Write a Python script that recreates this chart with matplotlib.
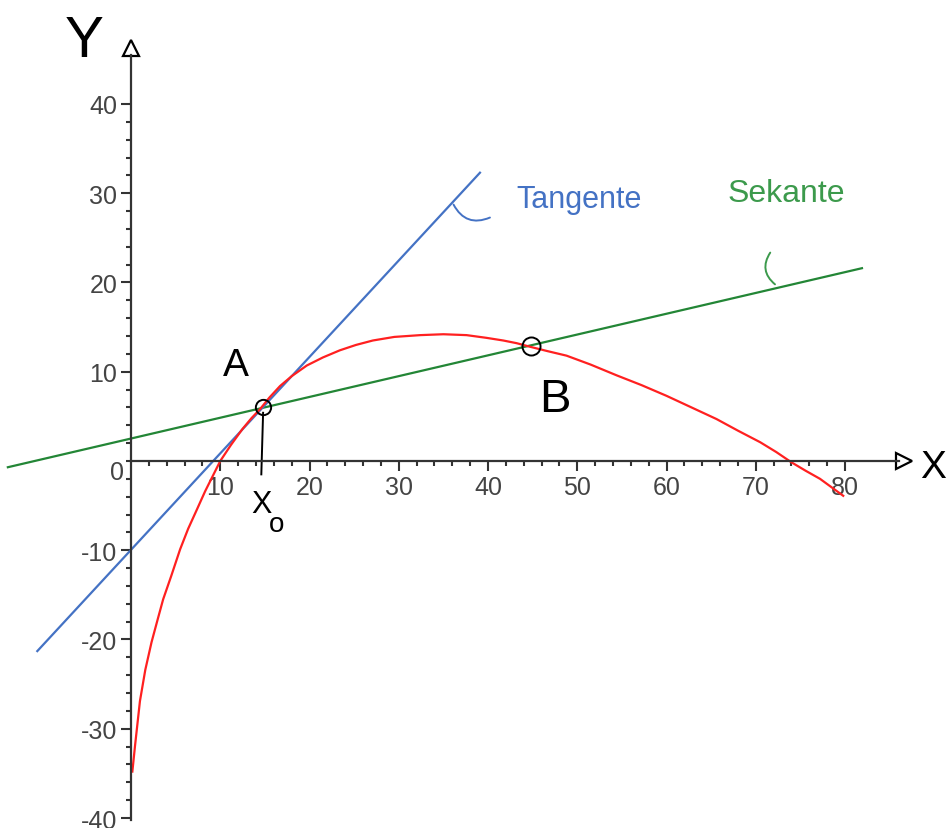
import matplotlib.pyplot as plt
import numpy as np

plt.rcParams['axes.unicode_minus'] = False
plt.rcParams['font.family'] = ['Liberation Sans', 'DejaVu Sans']

# curve values
curve_x = [0.15, 0.45, 1.0, 1.6, 2.3, 3.0, 3.6, 4.5, 5.5, 6.4, 7.4, 8.3, 9.2, 10.0,
           11.2, 12.5, 13.5, 14.45, 15.5, 16.7, 18.0, 19.7, 21.5, 23.4, 25.2, 27.1,
           29.5, 32.4, 35.0, 37.6, 39.8, 41.7, 43.2, 44.7, 46.7, 48.8, 51.5, 54.4,
           57.2, 60.0, 62.8, 65.6, 68.0, 70.5, 72.3, 74.0, 75.6, 77.2, 79.8]
curve_y = [-34.8, -31.9, -26.9, -23.4, -20.3, -17.7, -15.5, -12.9, -9.9, -7.6, -5.4,
           -3.4, -1.6, 0.0, 1.8, 3.6, 4.8, 5.8, 7.1, 8.4, 9.5, 10.7, 11.6, 12.4, 13.0,
           13.5, 13.9, 14.1, 14.2, 14.1, 13.8, 13.5, 13.2, 12.8, 12.3, 11.8, 10.8,
           9.6, 8.5, 7.3, 6.0, 4.7, 3.4, 2.1, 1.0, -0.15, -1.1, -2.0, -3.9]

tangent_x = [-10.5, 39.1]
tangent_y = [-21.3, 32.3]
secant_x = [-13.8, 81.9]
secant_y = [-0.7, 21.6]

point_a = (14.8, 6.0)
point_b = (44.8, 12.9)

x_ticks = [10, 20, 30, 40, 50, 60, 70, 80]
y_ticks = [-40, -30, -20, -10, 10, 20, 30, 40]

hand = ['Liberation Sans Narrow', 'Liberation Sans']
blue = '#4472c4'
green = '#238636'

fig = plt.figure(figsize=(9.48, 8.29), dpi=100)
ax = fig.add_axes([0, 0, 1, 1])
ax.set_xlim(-14.68, 91.54)
ax.set_ylim(-41.12, 51.76)

# axes through origin, Maple style
for s in ['top', 'right']:
    ax.spines[s].set_visible(False)
ax.spines['bottom'].set_position(('data', 0))
ax.spines['left'].set_position(('data', 0))
ax.spines['bottom'].set_bounds(0, 86)
ax.spines['left'].set_bounds(-40.2, 45.5)
for s in ['bottom', 'left']:
    ax.spines[s].set_color('#333333')
    ax.spines[s].set_linewidth(1.6)

ax.set_xticks(x_ticks)
ax.set_yticks(y_ticks)
ax.set_xticks(np.arange(2, 81, 2), minor=True)
ax.set_yticks(np.arange(-40, 41, 2), minor=True)
ax.tick_params(which='major', direction='out', length=7, width=1.5, color='#333333',
               labelsize=18, labelcolor='#444444', pad=3)
ax.tick_params(which='minor', direction='out', length=3.5, width=1.5, color='#333333')
ax.text(-1.6, -1.25, '0', fontsize=18, color='#444444', ha='center', va='center')

# arrow heads
ax.plot(0, 46.3, marker='^', ms=12, mfc='white', mec='black', mew=1.6, clip_on=False)
ax.plot(86.6, 0, marker='>', ms=12, mfc='white', mec='black', mew=1.6, clip_on=False)

# lines
ax.plot(secant_x, secant_y, color=green, lw=1.6)
ax.plot(tangent_x, tangent_y, color=blue, lw=1.6)
ax.plot(curve_x, curve_y, color='#ff2020', lw=1.6)

# points A and B
ax.plot(*point_a, marker='o', ms=11, mfc='none', mec='black', mew=1.4)
ax.plot(*point_b, marker='o', ms=13, mfc='none', mec='black', mew=1.4)
ax.plot([point_a[0], point_a[0] - 0.2], [point_a[1] - 0.6, -1.5], color='black', lw=1.4)

# handwritten labels
ax.text(11.7, 10.8, 'A', fontsize=28, family=hand, color='black', ha='center', va='center')
ax.text(47.5, 7.0, 'B', fontsize=34, family=hand, color='black', ha='center', va='center')
ax.text(14.6, -4.8, 'X', fontsize=22, family=hand, color='black', ha='center', va='center')
ax.text(16.3, -7.1, 'o', fontsize=20, family=hand, color='black', ha='center', va='center')
ax.text(-5.3, 47.0, 'Y', fontsize=42, family=hand, color='black', ha='center', va='center')
ax.text(89.9, -0.7, 'X', fontsize=28, family=hand, color='black', ha='center', va='center')

ax.text(43.2, 29.3, 'Tangente', fontsize=22, family=hand, color=blue, ha='left', va='center')
ax.annotate('', xy=(36.0, 29.0), xytext=(40.5, 27.4),
            arrowprops=dict(arrowstyle='-', color=blue, lw=1.4,
                            connectionstyle='arc3,rad=-0.5'))
ax.text(66.8, 30.0, 'Sekante', fontsize=23, family=hand, color='#3c9a4c', ha='left', va='center')
ax.annotate('', xy=(72.4, 19.6), xytext=(71.8, 23.6),
            arrowprops=dict(arrowstyle='-', color='#3c9a4c', lw=1.4,
                            connectionstyle='arc3,rad=0.5'))

fig.savefig('out.png', dpi=100)
